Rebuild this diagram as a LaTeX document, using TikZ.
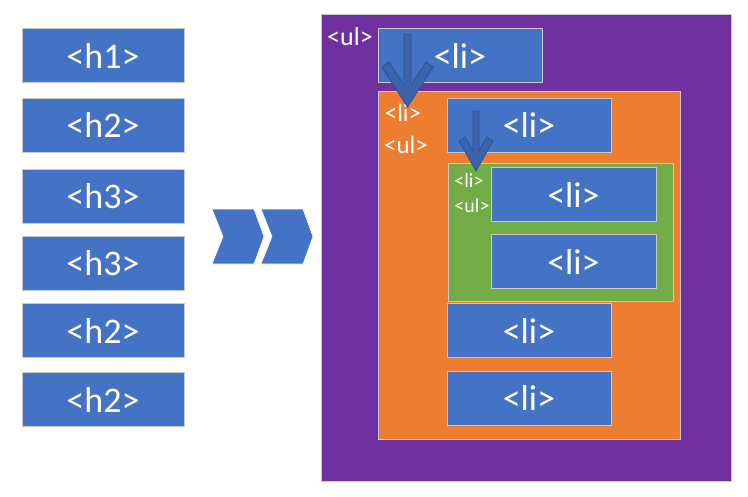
\documentclass[tikz,border=0pt]{standalone}
\usepackage{fontspec}
\setmainfont{Carlito}
\usetikzlibrary{positioning}

\definecolor{blockblue}{HTML}{4472C4}
\definecolor{arrowedge}{HTML}{2F528F}
\definecolor{ulpurple}{HTML}{7030A0}
\definecolor{ulorange}{HTML}{ED7D31}
\definecolor{ulgreen}{HTML}{70AD47}
\definecolor{edgegray}{HTML}{C9C9C9}

\tikzset{
    blk/.style={fill=blockblue, draw=edgegray, line width=0.9pt, text=white,
        inner sep=0pt, minimum width=164pt, minimum height=54pt,
        font=\fontsize{36}{40}\selectfont},
    tag/.style={text=white, inner sep=0pt},
    container/.style={draw=edgegray, line width=0.9pt},
    nestarrow/.style={fill=blockblue!88!black, draw=arrowedge, line width=0.8pt}
}

\begin{document}
\begin{tikzpicture}[x=1pt, y=-1pt]
    \useasboundingbox[fill=white] (0,0) rectangle (748,496);

    % Heading sequence on the left
    \foreach \name/\y/\lbl in {hA/55.5/h1, hB/125/h2, hC/196.5/h3, hD/263.5/h3, hE/330.5/h2, hF/399.5/h2} {
        \node[blk, minimum width=162pt] (\name) at (103,\y) {<\lbl>};
    }

    % Chevrons pointing to the nested list
    \foreach \dx in {0,49} {
        \fill[blockblue, draw=white, line width=0.6pt]
            (212+\dx,209) -- (254+\dx,209) -- (264+\dx,236.5) -- (254+\dx,264)
            -- (212+\dx,264) -- (223+\dx,236.5) -- cycle;
    }

    % Outer list
    \draw[container, fill=ulpurple] (321,14) rectangle (731,481);
    \node[tag, font=\fontsize{26}{28}\selectfont] (ulA) at (350,37) {<ul>};
    \node[blk] (liA) at (460,55.5) {<li>};

    % Second level list
    \draw[container, fill=ulorange] (378,91) rectangle (680,439);
    \node[tag, font=\fontsize{25}{28}\selectfont] (liB) at (403,113) {<li>};
    \node[tag, font=\fontsize{25}{28}\selectfont] (ulB) at (406,145) {<ul>};
    \node[blk] (liC) at (529,125) {<li>};
    \node[blk] (liD) at (529,330.5) {<li>};
    \node[blk] (liE) at (529,398) {<li>};

    % Third level list
    \draw[container, fill=ulgreen] (448,163) rectangle (673,301);
    \node[tag, font=\fontsize{20}{22}\selectfont] (liF) at (469,181) {<li>};
    \node[tag, font=\fontsize{20}{22}\selectfont] (ulC) at (472,206) {<ul>};
    \node[blk, minimum width=165pt] (liG) at (573.5,194.5) {<li>};
    \node[blk, minimum width=165pt] (liH) at (573.5,261.5) {<li>};

    % Nesting arrows
    \filldraw[nestarrow] (404,34) -- (411,34) -- (411,85) -- (426,62) -- (433,67)
        -- (407.5,107) -- (382,67) -- (389,62) -- (404,85) -- cycle;
    \filldraw[nestarrow] (473,111) -- (479,111) -- (479,151) -- (487,137) -- (493,141)
        -- (476,171) -- (459,141) -- (465,137) -- (473,151) -- cycle;

\end{tikzpicture}
\end{document}
